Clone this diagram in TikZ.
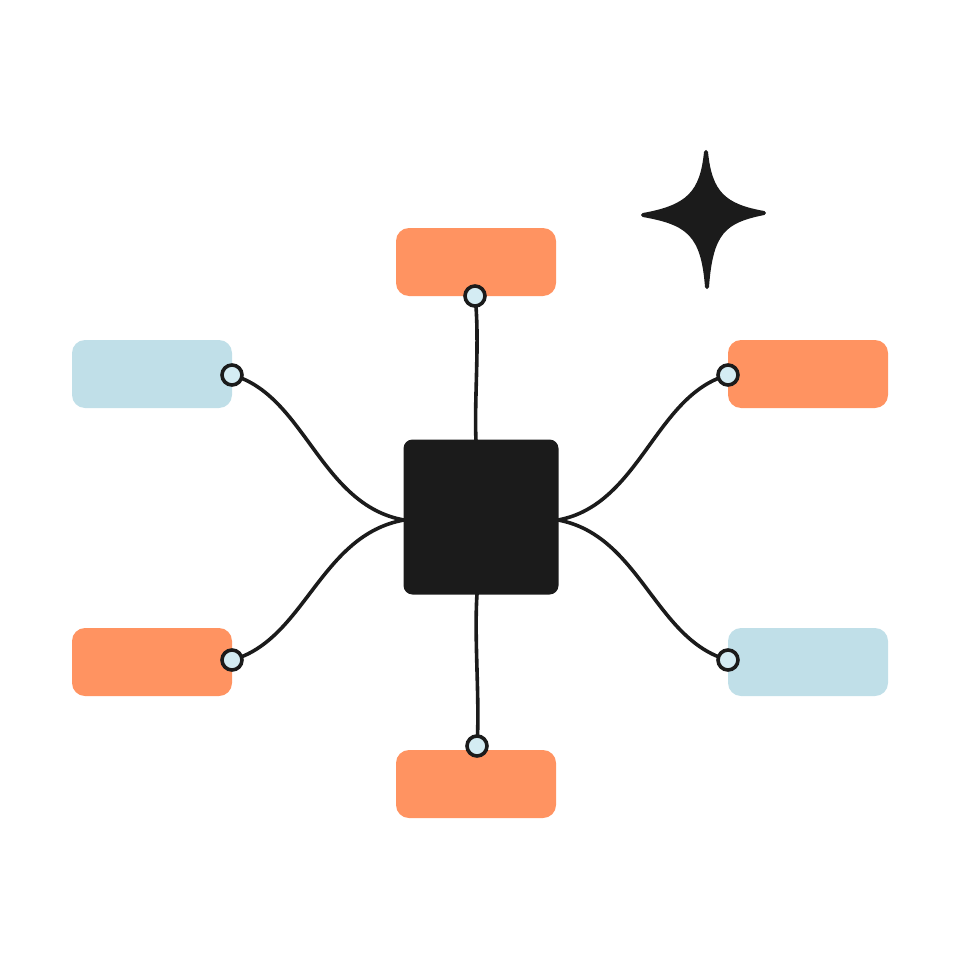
\documentclass[tikz,border=0pt]{standalone}
\definecolor{orng}{HTML}{FF9361}
\definecolor{lblue}{HTML}{C0DFE8}
\definecolor{pin}{HTML}{D4ECF3}
\definecolor{ink}{HTML}{1B1B1B}
\begin{document}
\begin{tikzpicture}[x=1pt,y=-1pt,
  card/.style={rectangle,rounded corners=13pt,minimum width=160pt,minimum height=68pt,inner sep=0pt,draw=none},
  hub/.style={rectangle,rounded corners=9pt,fill=ink,minimum width=155pt,minimum height=155pt,inner sep=0pt},
  pinnode/.style={circle,fill=pin,draw=ink,line width=3.6pt,minimum size=20pt,inner sep=0pt},
  wire/.style={draw=ink,line width=3.6pt,line cap=round}]
\useasboundingbox (0,0) rectangle (960,960);
\node[card,fill=orng] (top) at (476,262) {};
\node[card,fill=lblue] (lt) at (152,374) {};
\node[card,fill=orng] (rt) at (808,374) {};
\node[card,fill=orng] (lb) at (152,662) {};
\node[card,fill=lblue] (rb) at (808,662) {};
\node[card,fill=orng] (bot) at (476,784) {};
\node[hub] (c) at (481,517) {};
\coordinate (cl) at (404,520);
\coordinate (cr) at (558,520);
\coordinate (ct) at (476,441);
\coordinate (cb) at (477,594);
\draw[wire] (475,296) .. controls (480,340) and (474,400) .. (ct);
\draw[wire] (cb) .. controls (474,640) and (480,700) .. (477,746);
\draw[wire] (232,375) .. controls (305,395) and (320,505) .. (cl);
\draw[wire] (232,660) .. controls (305,640) and (320,535) .. (cl);
\draw[wire] (728,375) .. controls (655,395) and (640,505) .. (cr);
\draw[wire] (728,660) .. controls (655,640) and (640,535) .. (cr);
\node[pinnode] (p1) at (475,296) {};
\node[pinnode] (p2) at (232,375) {};
\node[pinnode] (p3) at (728,375) {};
\node[pinnode] (p4) at (232,660) {};
\node[pinnode] (p5) at (728,660) {};
\node[pinnode] (p6) at (477,746) {};
\fill[ink,draw=ink,line width=4pt,line join=round]
  (706,152) .. controls (710,193) and (724,206) .. (764,213)
  .. controls (724,221) and (711,232) .. (707,287)
  .. controls (703,234) and (688,223) .. (643,215)
  .. controls (688,207) and (702,193) .. (706,152) -- cycle;
\end{tikzpicture}
\end{document}
